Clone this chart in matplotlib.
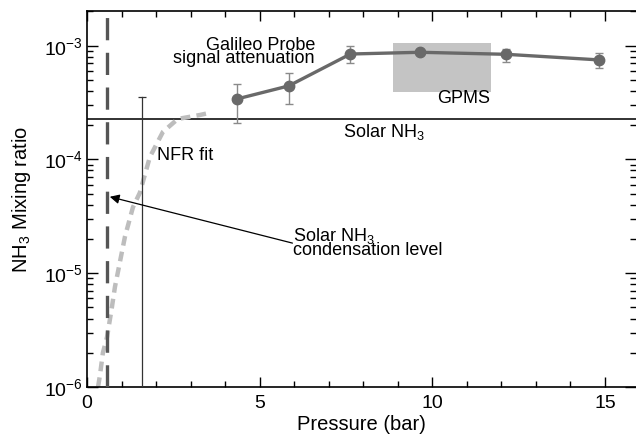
import numpy as np
import matplotlib
matplotlib.use("Agg")
import matplotlib.pyplot as plt
from matplotlib.ticker import LogLocator, LogFormatterMathtext, MultipleLocator, NullFormatter

plt.rcParams['font.family'] = ['Liberation Sans', 'DejaVu Sans']
plt.rcParams['mathtext.fontset'] = 'custom'
plt.rcParams['mathtext.rm'] = 'Liberation Sans'
plt.rcParams['mathtext.it'] = 'Liberation Sans:italic'
plt.rcParams['lines.scale_dashes'] = False

# Galileo probe signal attenuation (pressure in bar, NH3 mixing ratio)
probe_p = [4.34, 5.84, 7.63, 9.65, 12.14, 14.83]
probe_nh3 = [3.4e-4, 4.43e-4, 8.45e-4, 8.75e-4, 8.4e-4, 7.5e-4]
probe_lo = [2.1e-4, 3.08e-4, 7.05e-4, 8.4e-4, 7.2e-4, 6.4e-4]
probe_hi = [4.6e-4, 5.75e-4, 1.0e-3, 9.1e-4, 9.4e-4, 8.6e-4]

# NFR fit profile
nfr_p = [0.32, 0.38, 0.46, 0.58, 0.72, 0.81, 1.1, 1.33, 1.53, 1.82, 2.2, 2.63, 3.27, 3.5]
nfr_nh3 = [1.0e-6, 1.3e-6, 2.0e-6, 2.75e-6, 5.0e-6, 7.6e-6, 2.1e-5, 3.8e-5, 5.1e-5,
           1.05e-4, 1.75e-4, 2.27e-4, 2.46e-4, 2.55e-4]
nfr_bar_p = 1.59
nfr_bar_top = 3.55e-4

# GPMS range
gpms_p = (8.87, 11.70)
gpms_nh3 = (3.95e-4, 1.06e-3)

solar_nh3 = 2.27e-4
cond_level_p = 0.58

fig = plt.figure(figsize=(6.36, 4.43), dpi=100)
ax = fig.add_axes([0.1368, 0.1264, 0.8632, 0.8488])
ax.set_yscale('log')
ax.set_xlim(0, 15.9)
ax.set_ylim(1e-6, 10 ** -2.695)

# GPMS box
ax.fill_between(gpms_p, gpms_nh3[0], gpms_nh3[1], color='#c4c4c4', lw=0, zorder=1)

# solar line
ax.axhline(solar_nh3, color='#222222', lw=1.3, zorder=2)

# condensation level
ax.axvline(cond_level_p, color='#555555', lw=2.4, dashes=(16, 9), zorder=3)

# NFR fit
ax.plot(nfr_p, nfr_nh3, color='#bdbdbd', lw=3.2, dashes=(7, 4.5), zorder=2)
ax.plot([nfr_bar_p, nfr_bar_p], [1e-6, nfr_bar_top], color='#333333', lw=0.9, zorder=3)
ax.plot([nfr_bar_p], [nfr_bar_top], marker='_', ms=6, mew=0.9, color='#333333', zorder=3)

# probe data
yerr = [np.array(probe_nh3) - np.array(probe_lo), np.array(probe_hi) - np.array(probe_nh3)]
ax.errorbar(probe_p, probe_nh3, yerr=yerr, fmt='none', ecolor='#8a8a8a', elinewidth=1,
            capsize=3, capthick=1, zorder=4)
ax.plot(probe_p, probe_nh3, color='#696969', lw=2.4, marker='o', ms=7.5, zorder=5)

# texts
ax.text(6.6, 7.05e-4, 'Galileo Probe\nsignal attenuation', fontsize=13, ha='right',
        multialignment='right', linespacing=0.68)
ax.text(10.14, 3.13e-4, 'GPMS', fontsize=13)
ax.text(7.4, 1.57e-4, r'Solar NH$_3$', fontsize=13)
ax.text(2.02, 9.9e-5, 'NFR fit', fontsize=13)
ax.text(5.98, 1.44e-5, 'Solar NH$_3$\ncondensation level', fontsize=13, linespacing=0.68)
ax.annotate('', xy=(0.66, 4.7e-5), xytext=(5.95, 1.84e-5),
            arrowprops=dict(arrowstyle='-|>', color='black', lw=0.9, mutation_scale=14,
                            shrinkA=0, shrinkB=0))

# axes styling
ax.spines['right'].set_visible(False)
for s in ['left', 'top', 'bottom']:
    ax.spines[s].set_linewidth(1.2)
ax.xaxis.set_major_locator(MultipleLocator(5))
ax.xaxis.set_minor_locator(MultipleLocator(1))
ax.yaxis.set_major_locator(LogLocator(base=10, numticks=10))
ax.yaxis.set_minor_locator(LogLocator(base=10, subs=np.arange(2, 10), numticks=10))
ax.yaxis.set_major_formatter(LogFormatterMathtext())
ax.yaxis.set_minor_formatter(NullFormatter())
ax.tick_params(which='both', direction='in', top=True, right=True, labelsize=14)
ax.tick_params(axis='x', which='major', length=7, width=1, pad=6)
ax.tick_params(axis='x', which='minor', length=4, width=1)
ax.tick_params(axis='y', which='major', length=8, width=1, pad=3)
ax.tick_params(axis='y', which='minor', length=4, width=1)

ax.set_xlabel('Pressure (bar)', fontsize=14.5, labelpad=2)
ax.set_ylabel(r'NH$_3$ Mixing ratio', fontsize=14.5, labelpad=8)

fig.savefig('out.png', dpi=100)
